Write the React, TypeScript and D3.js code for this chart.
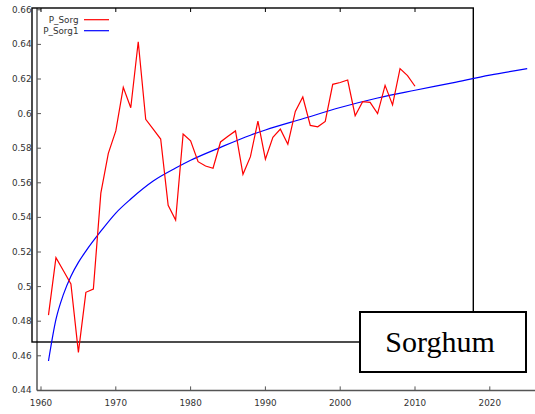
import React from "react";
import * as d3 from "d3";

const years: number[] = d3.range(1961, 2011);
const pSorg: number[] = [
  0.4835, 0.5167, 0.5092, 0.5015, 0.462, 0.4967, 0.4986, 0.554, 0.577, 0.590,
  0.6152, 0.6034, 0.6415, 0.5967, 0.591, 0.5853, 0.547, 0.5385, 0.5882, 0.5843,
  0.5722, 0.5697, 0.5684, 0.5836, 0.5869, 0.590, 0.5649, 0.5751, 0.5957, 0.5737,
  0.5863, 0.591, 0.5823, 0.6013, 0.6096, 0.5932, 0.5924, 0.5955, 0.6169, 0.618,
  0.6194, 0.5988, 0.6069, 0.6065, 0.600, 0.6163, 0.605, 0.626, 0.622, 0.6158,
];

const fitYears: number[] = [1961, 1962, 1963, 1964, 1965, 1966, 1968, 1970, 1972, 1975, 1978, 1980, 1984, 1988, 1990, 1995, 2000, 2005, 2010, 2015, 2020, 2025];
const pSorg1: number[] = [0.457, 0.481, 0.4955, 0.506, 0.514, 0.5205, 0.532, 0.5425, 0.5506, 0.561, 0.5685, 0.573, 0.5805, 0.5875, 0.5905, 0.597, 0.6035, 0.609, 0.6135, 0.6178, 0.6222, 0.626];

const xTicks: number[] = [1960, 1970, 1980, 1990, 2000, 2010, 2020];
const yTicks: number[] = [0.44, 0.46, 0.48, 0.5, 0.52, 0.54, 0.56, 0.58, 0.6, 0.62, 0.64, 0.66];
const legendLabels: string[] = ["P_Sorg", "P_Sorg1"];
const title = "Sorghum";

export default function App() {
  const W = 535, H = 414;
  const x = d3.scaleLinear().domain([1960, 2020]).range([41, 489.8]);
  const y = d3.scaleLinear().domain([0.44, 0.66]).range([390.4, 9.8]);
  const fmtY = (v: number) => String(+v.toFixed(2));
  const redPath = d3.line<number>().x((_, i) => x(years[i])).y((d) => y(d))(pSorg) || "";
  const bluePath = d3.line<number>().x((_, i) => x(fitYears[i])).y((d) => y(d)).curve(d3.curveMonotoneX)(pSorg1) || "";
  const axisColor = "#555";
  const font = "'DejaVu Sans', Verdana, sans-serif";
  const boxL = 32, boxT = 8, boxR = 473.3, boxB = 342;
  return (
    <svg width={W} height={H} style={{ position: "absolute", left: 0, top: 0, background: "#fff" }}>
      <rect x={0} y={0} width={W} height={H} fill="#fff" />
      {/* axes */}
      <line x1={37} x2={37} y1={8} y2={390.4} stroke={axisColor} strokeWidth={1.5} />
      <line x1={37} x2={535} y1={390.4} y2={390.4} stroke={axisColor} strokeWidth={1.5} />
      {yTicks.map((t) => (
        <g key={"y" + t}>
          <line x1={37} x2={41} y1={y(t)} y2={y(t)} stroke={axisColor} strokeWidth={1} />
          <text x={31.5} y={y(t)} dy="0.35em" textAnchor="end" fontSize={8.8} fontFamily={font} fill="#333">{fmtY(t)}</text>
        </g>
      ))}
      {xTicks.map((t) => (
        <g key={"x" + t}>
          <line x1={x(t)} x2={x(t)} y1={390.4} y2={386.4} stroke={axisColor} strokeWidth={1} />
          <text x={x(t)} y={405.5} textAnchor="middle" fontSize={8.8} fontFamily={font} fill="#333">{t}</text>
        </g>
      ))}
      {xTicks.filter((t) => x(t) < boxR).map((t) => (
        <line key={"xt" + t} x1={x(t)} x2={x(t)} y1={boxT} y2={boxT + 4} stroke="#000" strokeWidth={1} />
      ))}
      {/* frame box */}
      <rect x={boxL} y={boxT} width={boxR - boxL} height={boxB - boxT} fill="none" stroke="#000" strokeWidth={1.4} />
      {/* series */}
      <path d={bluePath} fill="none" stroke="#0000ff" strokeWidth={1.2} />
      <path d={redPath} fill="none" stroke="#ff0000" strokeWidth={1.2} />
      {/* legend */}
      {legendLabels.map((l, i) => (
        <g key={l}>
          <text x={78.5} y={20 + i * 11} dy="0.35em" textAnchor="end" fontSize={8.8} fontFamily={font} fill="#333">{l}</text>
          <line x1={84} x2={109} y1={19.7 + i * 11} y2={19.7 + i * 11} stroke={i === 0 ? "#ff0000" : "#0000ff"} strokeWidth={1.2} />
        </g>
      ))}
      {/* title box */}
      <rect x={360} y={312} width={166} height={60} fill="#fff" stroke="#000" strokeWidth={2} />
      <text x={440} y={352} textAnchor="middle" fontSize={30} fontFamily="'Liberation Serif', 'Times New Roman', serif" fill="#000">{title}</text>
    </svg>
  );
}
